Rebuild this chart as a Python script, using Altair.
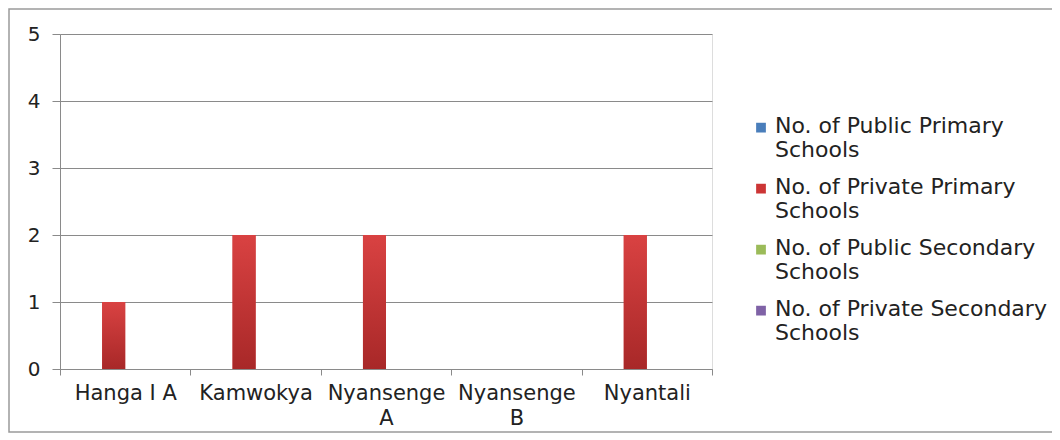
import altair as alt
import pandas as pd

categories = ["Hanga I A", "Kamwokya", "Nyansenge A", "Nyansenge B", "Nyantali"]
series = [
    "No. of Public Primary Schools",
    "No. of Private Primary Schools",
    "No. of Public Secondary Schools",
    "No. of Private Secondary Schools",
]
public_primary = [0, 0, 0, 0, 0]
private_primary = [1, 2, 2, 0, 2]
public_secondary = [0, 0, 0, 0, 0]
private_secondary = [0, 0, 0, 0, 0]
colors = ["#4a7ebb", "#cc3535", "#9bbb59", "#7f62a6"]
y_ticks = [0, 1, 2, 3, 4, 5]

rows = []
for s, vals in zip(series, [public_primary, private_primary, public_secondary, private_secondary]):
    for c, v in zip(categories, vals):
        rows.append({"area": c, "series": s, "value": v})
df = pd.DataFrame(rows)

FONT = "DejaVu Sans"
GRAY = "#8a8a8a"

x_enc = alt.X(
    "area:N",
    sort=categories,
    scale=alt.Scale(domain=categories, paddingInner=0, paddingOuter=0),
    axis=alt.Axis(
        title=None,
        labelAngle=0,
        tickBand="extent",
        tickSize=6,
        tickColor=GRAY,
        domainColor=GRAY,
        labelPadding=7,
        labelFont=FONT,
        labelFontSize=21,
        labelColor="#222222",
        labelLineHeight=25,
        labelExpr="indexof(datum.label, 'Nyansenge') == 0 ? split(datum.label, ' ') : datum.label",
        grid=False,
    ),
)
xoff_enc = alt.XOffset(
    "series:N",
    sort=series,
    scale=alt.Scale(domain=series, paddingInner=0, paddingOuter=0.83),
)
y_enc = alt.Y(
    "value:Q",
    scale=alt.Scale(domain=[0, 5], nice=False),
    axis=alt.Axis(
        title=None,
        values=y_ticks,
        tickSize=8,
        tickColor=GRAY,
        domainColor=GRAY,
        gridColor=GRAY,
        gridWidth=1,
        labelPadding=12,
        labelFont=FONT,
        labelFontSize=20,
        labelColor="#222222",
    ),
)

base = alt.Chart(df)

bars = base.mark_bar().encode(
    x=x_enc,
    xOffset=xoff_enc,
    y=y_enc,
    color=alt.Color(
        "series:N",
        sort=series,
        scale=alt.Scale(domain=series, range=colors),
        legend=alt.Legend(
            title=None,
            orient="none",
            legendX=690,
            legendY=88,
            symbolType="M-1,-2.1H1V-0.1H-1Z",
            symbolSize=95,
            symbolStrokeWidth=0,
            labelFont=FONT,
            labelFontSize=22,
            labelColor="#222222",
            labelLimit=400,
            labelOffset=3,
            labelBaseline="alphabetic",
            rowPadding=15,
            labelExpr="[replace(datum.label, ' Schools', ''), 'Schools']",
        ),
    ),
)

grad = base.transform_filter(
    alt.datum.series == series[1]
).mark_bar(
    color=alt.Gradient(
        gradient="linear",
        x1=0, x2=0, y1=0, y2=1,
        stops=[
            alt.GradientStop(offset=0, color="#d94242"),
            alt.GradientStop(offset=1, color="#a82828"),
        ],
    )
).encode(x=x_enc, xOffset=xoff_enc, y=y_enc)

frame = alt.Chart(pd.DataFrame({"a": [0]})).mark_rect(
    filled=False, stroke="#9a9a9a", strokeWidth=1.5, clip=False
).encode(
    x=alt.value(-51), x2=alt.value(994), y=alt.value(-25), y2=alt.value(398)
)

chart = alt.layer(frame, bars, grad).properties(
    width=652,
    height=335,
    autosize=alt.AutoSizeParams(type="none"),
    padding={"left": 52, "top": 26, "right": 340, "bottom": 71},
).configure_view(stroke=None).configure(background="white")

chart.save("out.html", embed_options={"renderer": "svg", "actions": False})
